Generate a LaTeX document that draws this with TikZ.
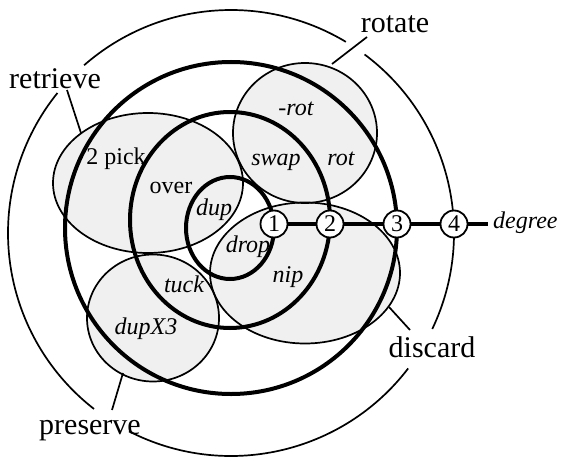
\documentclass[tikz,border=0pt]{standalone}
\usepackage{fontspec}
\setmainfont{Liberation Serif}
\usetikzlibrary{calc}

\begin{document}
\begin{tikzpicture}[x=1pt,y=-1pt,
  set/.style={fill=black!6},
  rim/.style={line width=1.7pt},
  ring/.style={line width=4pt},
  deg/.style={circle,draw,line width=1.8pt,fill=white,minimum size=27pt,inner sep=0pt,font=\fontsize{24}{24}\selectfont},
  op/.style={anchor=base,inner sep=0pt,font=\fontsize{24}{28}\selectfont\itshape},
  word/.style={anchor=base,inner sep=0pt,font=\fontsize{24}{28}\selectfont},
  big/.style={anchor=base,inner sep=0pt,font=\fontsize{30}{34}\selectfont}]
\useasboundingbox (0,0) rectangle (564,460);
\coordinate (o) at (231,233);
% shaded sets of operators
\fill[set] (148,183) ellipse (95 and 70);
\fill[set] (305,133) ellipse (72 and 70);
\fill[set] (305,273) ellipse (95 and 70.5);
\fill[set] (153,318) ellipse (66 and 63.5);
\draw[rim] (148,183) ellipse (95 and 70);
\draw[rim] (305,133) ellipse (72 and 70);
\draw[rim] (305,273) ellipse (95 and 70.5);
\draw[rim] (153,318) ellipse (66 and 63.5);
% rings of degree 1 to 4
\draw[ring] (230,228) ellipse (44 and 51);
\draw[ring] (230,220) ellipse (100 and 108);
\draw[ring] (231,228) circle (166);
\draw[rim] (o) ++(306.8:223) arc (306.8:385.5:223);
\draw[rim] (o) ++(37.4:223) arc (37.4:117.2:223);
\draw[rim] (o) ++(127.9:223) arc (127.9:218.9:223);
\draw[rim] (o) ++(228.8:223) arc (228.8:301:223);
% degree axis
\node[deg] (n1) at (274,224) {1};
\node[deg] (n2) at (330,224) {2};
\node[deg] (n3) at (397,224) {3};
\node[deg] (n4) at (454,224) {4};
\node[op,anchor=base west] (dg) at (493,228) {degree};
\coordinate (dg-w) at (488,224);
\draw[line width=3.4pt] (n1) -- (n2) -- (n3) -- (n4) -- (dg-w);
% operators
\node[op] (mrot) at (296,115) {-rot};
\node[op] (swap) at (276,165) {swap};
\node[op] (rot) at (341,165) {rot};
\node[word] (pick) at (116,164) {2 pick};
\node[word] (over) at (171,193) {over};
\node[op] (dup) at (214,215) {dup};
\node[op] (drop) at (248,252) {drop};
\node[op] (nip) at (288,282) {nip};
\node[op] (tuck) at (184,292) {tuck};
\node[op] (dupx) at (146,334) {dupX3};
% set names
\node[big] (retr) at (55,88) {retrieve};
\node[big] (rota) at (395,33) {rotate};
\node[big] (disc) at (432,357) {discard};
\node[big] (pres) at (90,434) {preserve};
\coordinate (retr-a) at (67,90);  \coordinate (retr-b) at (81,133);
\coordinate (rota-a) at (367,37); \coordinate (rota-b) at (332,64);
\coordinate (disc-a) at (410,330); \coordinate (disc-b) at (389,307);
\coordinate (pres-a) at (112,410); \coordinate (pres-b) at (123,373);
\draw[rim] (retr-a) -- (retr-b);
\draw[rim] (rota-a) -- (rota-b);
\draw[rim] (disc-a) -- (disc-b);
\draw[rim] (pres-a) -- (pres-b);
\end{tikzpicture}
\end{document}
